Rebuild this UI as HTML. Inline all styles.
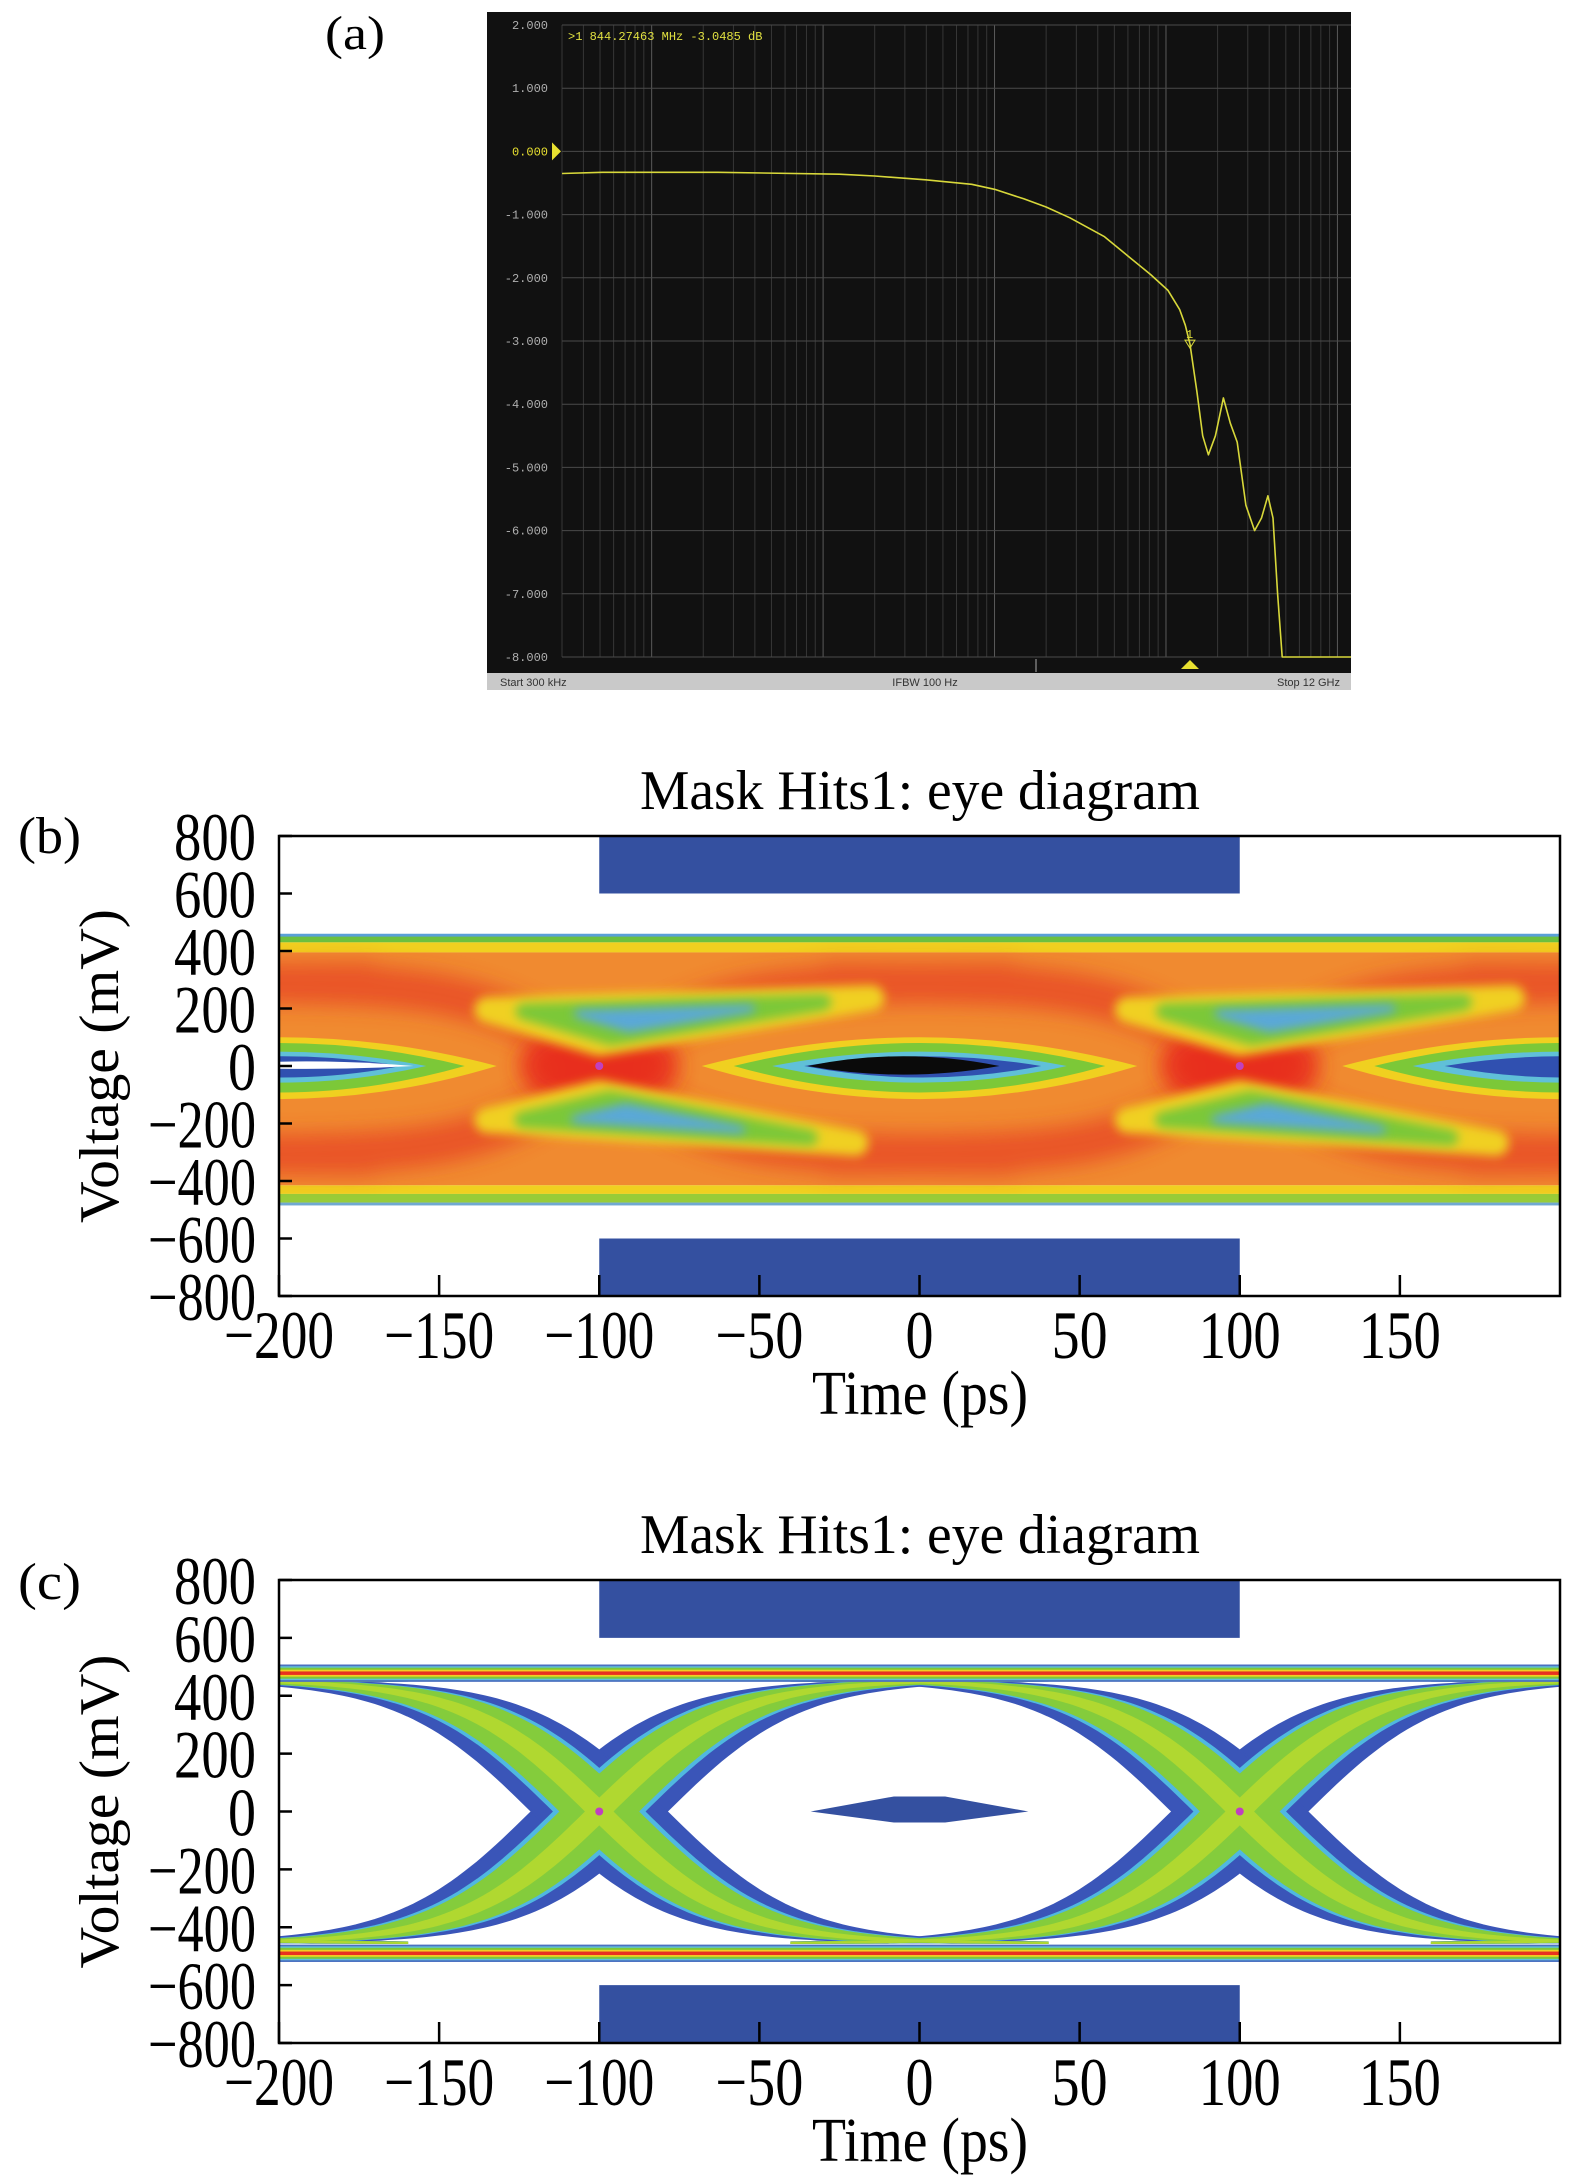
<!DOCTYPE html>
<html><head><meta charset="utf-8">
<style>
html,body{margin:0;padding:0;background:#fff;}
svg{display:block;}
</style></head>
<body>
<svg id="fig" xmlns="http://www.w3.org/2000/svg" width="1575" height="2179" viewBox="0 0 1575 2179" font-family="'Liberation Serif', serif">
  <defs>
    <clipPath id="clipB"><rect x="279" y="836" width="1281" height="460"/></clipPath>
    <clipPath id="clipC"><rect x="279" y="1580" width="1281" height="463"/></clipPath>
    <clipPath id="clipA"><rect x="562" y="25" width="789" height="633"/></clipPath>
    <filter id="blur4" filterUnits="userSpaceOnUse" x="0" y="0" width="1575" height="2179"><feGaussianBlur stdDeviation="5"/></filter>
    <filter id="blur8" filterUnits="userSpaceOnUse" x="0" y="0" width="1575" height="2179"><feGaussianBlur stdDeviation="10"/></filter>
  </defs>
  <text x="325" y="49" font-size="48" textLength="60" lengthAdjust="spacingAndGlyphs">(a)</text>
  <text x="18" y="853" font-size="52" textLength="63" lengthAdjust="spacingAndGlyphs">(b)</text>
  <text x="18" y="1599" font-size="52" textLength="63" lengthAdjust="spacingAndGlyphs">(c)</text>
  <g id="panelA"></g>
  <g id="panelB"></g>
  <g id="panelC"></g>
</svg>
<script>
// ---------- Panel (a) data ----------
const freqMHz = [0.3,0.516,2.43,12.4,20,39.6,73.6,100,148,200,275,438,597,814,1028,1200,1297,1380,1514,1637,1767,1941,2163,2373,2604,2926,3286,3608,3929,4211,4478,4763,12000];
const gainDb  = [-0.35,-0.33,-0.33,-0.36,-0.39,-0.45,-0.52,-0.6,-0.75,-0.88,-1.05,-1.35,-1.65,-1.95,-2.2,-2.5,-2.75,-3.05,-3.8,-4.5,-4.8,-4.5,-3.9,-4.3,-4.6,-5.6,-6.0,-5.8,-5.45,-5.8,-7.0,-8.0,-8.0];
const dbTicks = [2,1,0,-1,-2,-3,-4,-5,-6,-7,-8];
const dbTickLabels = ["2.000","1.000","0.000","-1.000","-2.000","-3.000","-4.000","-5.000","-6.000","-7.000","-8.000"];
const markerFreq = 1380;
const markerDb = -3.05;

// ---------- Eye diagram data ----------
const timeTicks = [-200,-150,-100,-50,0,50,100,150];
const timeTickLabels = ["\u2212200","\u2212150","\u2212100","\u221250","0","50","100","150"];
const voltTicks = [800,600,400,200,0,-200,-400,-600,-800];
const voltTickLabels = ["800","600","400","200","0","\u2212200","\u2212400","\u2212600","\u2212800"];
const crossTimes = [-300,-100,100,300];
const maskTopRect = [-100,100,600,800];
const maskBottomRect = [-100,100,-800,-600];
const maskCenterT = [-34,-8,8,34,8,-8];
const maskCenterV = [0,52,52,0,-38,-38];
const levelsB = [460,-480];
const levelsC = [478,-490];
const swingB = 300;
const swingC = 455;
const triUpperT = [-35,85,0];
const triUpperV = [195,236,80];
const triLowerT = [-35,80,0];
const triLowerV = [-188,-268,-94];

const NS = "http://www.w3.org/2000/svg";
function mk(tag, attrs, parent){
  const e = document.createElementNS(NS, tag);
  for (const k in attrs) e.setAttribute(k, attrs[k]);
  parent.appendChild(e);
  return e;
}

// ---------- Panel (a) ----------
(function(){
  const g = document.getElementById('panelA');
  const X0=562, X1=1351, Y0=25, Y1=657;
  const lmin=Math.log10(0.3), lmax=Math.log10(12000);
  const xA = f => X0 + (Math.log10(f)-lmin)/(lmax-lmin)*(X1-X0);
  const yA = d => Y0 + (2-d)/10*(Y1-Y0);
  const bg = mk('rect',{x:487,y:12,width:864,height:662,fill:'#111111'},g);
  
  
  for (let dec=-1; dec<=4; dec++){
    for (let m=1; m<10; m++){
      const f = m*Math.pow(10,dec);
      if (f<0.3 || f>12000) continue;
      const l = mk('line',{x1:xA(f),x2:xA(f),y1:Y0,y2:Y1,stroke:m===1?'#5a5a5a':'#363636','stroke-width':1},g);
      
      
    }
  }
  dbTicks.forEach((d,i)=>{
    const l = mk('line',{x1:X0,x2:X1,y1:yA(d),y2:yA(d),stroke:'#4a4a4a','stroke-width':1},g);
    
    
    const t = mk('text',{x:548,y:yA(d)+4,'font-size':12,'text-anchor':'end',fill:d===0?'#e8e030':'#b0b0b0','font-family':"'Liberation Mono', monospace"},g);
    t.textContent = dbTickLabels[i];
    
    
  });
  const ref = mk('polygon',{points:`552,${yA(0)-9} 561,${yA(0)} 552,${yA(0)+9}`,fill:'#e8e030'},g);
  
  
  const pts = freqMHz.map((f,i)=>`${xA(f).toFixed(1)},${yA(gainDb[i]).toFixed(1)}`).join(' ');
  const line = mk('polyline',{points:pts,fill:'none',stroke:'#d8d83a','stroke-width':1.6,'stroke-linejoin':'round','clip-path':'url(#clipA)'},g);
  
  
  const mx = xA(markerFreq), my = yA(markerDb);
  const mkT = mk('text',{x:mx-4,y:my-6,'font-size':12,fill:'#d8d83a','font-family':"'Liberation Mono', monospace"},g);
  mkT.textContent='1';
  
  
  const mkP = mk('polygon',{points:`${mx-5},${my-4} ${mx+5},${my-4} ${mx},${my+4}`,fill:'none',stroke:'#d8d83a','stroke-width':1},g);
  
  
  const mkB = mk('polygon',{points:`${mx-9},${Y1+12} ${mx+9},${Y1+12} ${mx},${Y1+3}`,fill:'#e8e030'},g);
  
  
  const arr = mk('line',{x1:1036,x2:1036,y1:Y1+2,y2:Y1+15,stroke:'#aaa','stroke-width':1},g);
  
  
  const rd = mk('text',{x:568,y:40,'font-size':12,fill:'#e0e040','font-family':"'Liberation Mono', monospace"},g);
  rd.textContent = '>1  844.27463 MHz -3.0485 dB';
  
  
  const bar = mk('rect',{x:487,y:673,width:864,height:17,fill:'#c9c9c9'},g);
  
  
  [['Start 300 kHz',500,'start','start-freq'],['IFBW 100 Hz',925,'middle','ifbw'],['Stop 12 GHz',1340,'end','stop-freq']].forEach(a=>{
    const t = mk('text',{x:a[1],y:686,'font-size':11,'text-anchor':a[2],fill:'#333','font-family':"'Liberation Sans', sans-serif"},g);
    t.textContent=a[0];
    
    
  });
})();

// ---------- Eye diagrams shared ----------
function eyePanel(gid, top, bottom, title){
  const g = document.getElementById(gid);
  const X0=279, X1=1560;
  const xs = t => X0 + (t+200)/400*(X1-X0);
  const ys = v => (top+bottom)/2 - v/1600*(bottom-top);
  return {g, xs, ys, X0, X1, top, bottom, title};
}
function transitionPath(P, tc, amp, tau, dir, off){
  let d='';
  for (let t=tc-130; t<=tc+130; t+=2){
    const v = dir*amp*Math.tanh((t-tc)/tau) + (off||0);
    d += (d?'L':'M') + P.xs(t).toFixed(1)+','+P.ys(v).toFixed(1);
  }
  return d;
}
function jitterBand(P, tc, amp, tau, dir, dt){
  let a=[], b=[];
  for (let t=tc-140; t<=tc+140; t+=2){
    const v1 = dir*amp*Math.tanh((t-tc+dt)/tau);
    const v2 = dir*amp*Math.tanh((t-tc-dt)/tau);
    a.push(P.xs(t).toFixed(1)+','+P.ys(v1).toFixed(1));
    b.unshift(P.xs(t).toFixed(1)+','+P.ys(v2).toFixed(1));
  }
  return 'M'+a.join('L')+'L'+b.join('L')+'Z';
}
function lens(P, t0, t1, vtop, vbot){
  const tm=(t0+t1)/2;
  return `M${P.xs(t0)},${P.ys(0)} Q${P.xs(tm)},${P.ys(vtop*2)} ${P.xs(t1)},${P.ys(0)} Q${P.xs(tm)},${P.ys(vbot*2)} ${P.xs(t0)},${P.ys(0)}Z`;
}
function drawAxes(P){
  const g=P.g;
  const box = mk('rect',{x:P.X0,y:P.top,width:P.X1-P.X0,height:P.bottom-P.top,fill:'none',stroke:'#000','stroke-width':2.5},g);
  
  
  voltTicks.forEach((v,i)=>{
    const l = mk('line',{x1:P.X0,x2:P.X0+13,y1:P.ys(v),y2:P.ys(v),stroke:'#000','stroke-width':2.5},g);
    
    
    const s = voltTickLabels[i];
    const t = mk('text',{x:256,y:P.ys(v)+24,'font-size':68,'text-anchor':'end',textLength:(s.length>3?108:(s.length===1?28:82)),lengthAdjust:'spacingAndGlyphs'},g);
    t.textContent=s;
    
    
  });
  timeTicks.forEach((tv,i)=>{
    const l = mk('line',{x1:P.xs(tv),x2:P.xs(tv),y1:P.bottom,y2:P.bottom-21,stroke:'#000','stroke-width':2.5},g);
    
    
    const s = timeTickLabels[i];
    const w = s.length===1?28:(s.length===2?56:(s.length===3?(s[0]==='\u2212'?88:82):110));
    const t = mk('text',{x:P.xs(tv),y:P.bottom+62,'font-size':68,'text-anchor':'middle',textLength:w,lengthAdjust:'spacingAndGlyphs'},g);
    t.textContent=s;
    
    
  });
  const xt = mk('text',{x:920,y:P.bottom+118,'font-size':62,'text-anchor':'middle',textLength:216,lengthAdjust:'spacingAndGlyphs'},g);
  xt.textContent='Time (ps)';
  
  
  const cy=(P.top+P.bottom)/2;
  const yt = mk('text',{x:0,y:0,'font-size':56,'text-anchor':'middle',textLength:314,lengthAdjust:'spacingAndGlyphs',transform:`translate(118,${cy}) rotate(-90)`},g);
  yt.textContent='Voltage (mV)';
  
  
  const tt = mk('text',{x:920,y:P.top-27,'font-size':56,'text-anchor':'middle',textLength:560,lengthAdjust:'spacingAndGlyphs'},g);
  tt.textContent=P.title;
  
  
}
function drawMasks(P, layer){
  [maskTopRect, maskBottomRect].forEach((m,i)=>{
    const r = mk('rect',{x:P.xs(m[0]),y:P.ys(m[3]),width:P.xs(m[1])-P.xs(m[0]),height:P.ys(m[2])-P.ys(m[3]),fill:'#3450a0'},layer);
    
    
  });
}

// ---------- Panel (b) ----------
(function(){
  const P = eyePanel('panelB',836,1296,'Mask Hits1: eye diagram');
  const L = mk('g',{'clip-path':'url(#clipB)'},P.g);
  
  
  const xs=P.xs, ys=P.ys;
  const bands = [[levelsB[0],levelsB[0]-15,'#5aa0d8'],[levelsB[0]-10,levelsB[0]-30,'#6cc040'],[levelsB[0]-30,levelsB[0]-65,'#f0d020'],[levelsB[0]-65,levelsB[1]+65,'#f08a30'],[levelsB[1]+65,levelsB[1]+35,'#f0d020'],[levelsB[1]+35,levelsB[1]+5,'#98cc38'],[levelsB[1]+5,levelsB[1]-5,'#70a8d0']];
  bands.forEach(b=>{
    const r = mk('rect',{x:P.X0,y:ys(b[0]),width:P.X1-P.X0,height:ys(b[1])-ys(b[0]),fill:b[2]},L);
    
    
  });
  const red = mk('g',{filter:'url(#blur8)',opacity:0.6},L);
  
  
  crossTimes.forEach(tc=>{
    [1,-1].forEach(dir=>{
      const p = mk('path',{d:transitionPath(P,tc,swingB,38,dir,-10),fill:'none',stroke:'#e53020','stroke-width':40},red);
      
      
    });
  });
  const redX = mk('g',{filter:'url(#blur8)',opacity:0.9},L);
  
  
  crossTimes.forEach(tc=>{
    const e = mk('ellipse',{cx:xs(tc),cy:ys(0),rx:80,ry:42,fill:'#e82a1e'},redX);
    
    
  });
  const lensG = mk('g',{},L);
  
  
  [0,-200,200].forEach(tc=>{
    [[tc-68,tc+68,100,-115,'#f0d020'],[tc-58,tc+58,80,-92,'#7cc838'],[tc-46,tc+46,50,-58,'#60c0d8'],[tc-36,tc+38,34,-40,'#3050b0']].forEach(s=>{
      const p = mk('path',{d:lens(P,s[0],s[1],s[2],s[3]),fill:s[4]},lensG);
      
      
    });
  });
  const blk = mk('path',{d:lens(P,-35,25,34,-30),fill:'#0a0a0a'},L);
  
  
  const wl = mk('path',{d:lens(P,-225,-158,16,-10),fill:'#ffffff'},L);
  
  
  [-100,100].forEach(tc=>{
    [[triUpperT,triUpperV],[triLowerT,triLowerV]].forEach(tri=>{
      [[1.0,26,'#f0d020'],[0.78,16,'#7cc838'],[0.45,8,'#5aa8d8']].forEach(q=>{
        const cT = (tri[0][0]+tri[0][1]+tri[0][2])/3, cV=(tri[1][0]+tri[1][1]+tri[1][2])/3;
        const pts = tri[0].map((t,i)=>`${xs(tc+cT+(t-cT)*q[0]).toFixed(1)},${ys(cV+(tri[1][i]-cV)*q[0]).toFixed(1)}`).join(' ');
        const p = mk('polygon',{points:pts,fill:q[2],stroke:q[2],'stroke-width':q[1],'stroke-linejoin':'round',filter:'url(#blur4)'},L);
        
        
      });
    });
    const dot = mk('circle',{cx:xs(tc),cy:ys(0),r:4,fill:'#c040c0'},L);
    
    
  });
  drawMasks(P, L);
  drawAxes(P);
})();

// ---------- Panel (c) ----------
(function(){
  const P = eyePanel('panelC',1580,2043,'Mask Hits1: eye diagram');
  const L = mk('g',{'clip-path':'url(#clipC)'},P.g);
  
  
  const xs=P.xs, ys=P.ys;
  const T = mk('g',{},L);
  
  
  const layers = [[21,'#3a55b8'],[14,'#50b8e0'],[12,'#84cc3c'],[4,'#b0d830']];
  layers.forEach(ly=>{
    crossTimes.forEach(tc=>{
      [1,-1].forEach(dir=>{
        const p = mk('path',{d:jitterBand(P,tc,swingC,42,dir,ly[0]),fill:ly[1],stroke:ly[1],'stroke-width':2},T);
        
        
      });
    });
  });
  levelsC.forEach(lv=>{
    [[30,'#4a70c0'],[24,'#60c0d8'],[19,'#7cc838'],[12,'#f0d020'],[6,'#e83020']].forEach(b=>{
      const r = mk('rect',{x:P.X0,y:ys(lv+b[0]),width:P.X1-P.X0,height:ys(lv-b[0])-ys(lv+b[0]),fill:b[1]},L);
      
      
    });
  });
  crossTimes.forEach(tc=>{
    const dot = mk('circle',{cx:xs(tc),cy:ys(0),r:4,fill:'#c040c0'},L);
    
    
  });
  drawMasks(P, L);
  const pts = maskCenterT.map((t,i)=>`${xs(t)},${ys(maskCenterV[i])}`).join(' ');
  const cm = mk('polygon',{points:pts,fill:'#3450a0'},L);
  
  
  drawAxes(P);
})();
</script>
</body></html>
